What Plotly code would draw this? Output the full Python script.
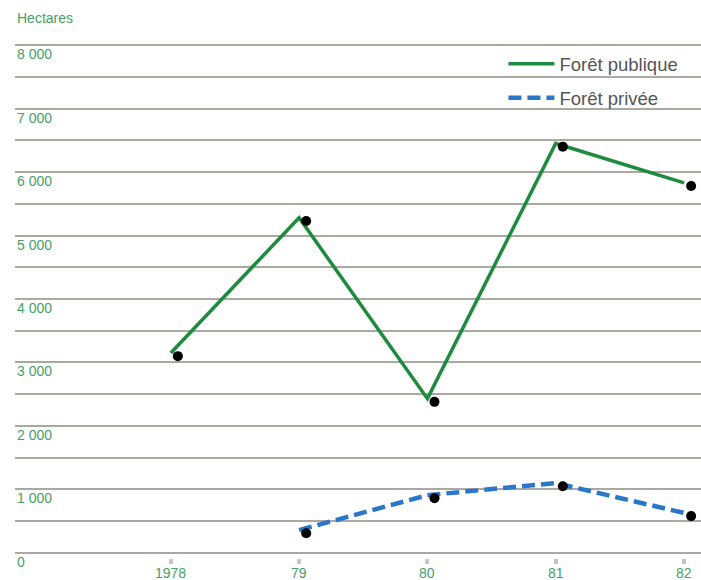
import plotly.graph_objects as go

years = [1978, 1979, 1980, 1981, 1982]
year_labels = ["1978", "79", "80", "81", "82"]
foret_publique = [3150, 5280, 2430, 6450, 5830]
foret_privee = [None, 360, 910, 1100, 630]
y_ticks = [0, 1000, 2000, 3000, 4000, 5000, 6000, 7000, 8000]

GREEN = "#1f8b3f"
BLUE = "#2a76c9"
LABEL_GREEN = "#47a066"
FONT = "Liberation Sans, Arial, sans-serif"

fig = go.Figure()
fig.add_trace(go.Scatter(
    x=years, y=foret_publique, mode="lines", name="Forêt publique",
    line=dict(color=GREEN, width=3.5), legendgroup="a",
))
fig.add_trace(go.Scatter(
    x=years, y=foret_privee, mode="lines", name="Forêt privée",
    line=dict(color=BLUE, width=4.5, dash="13px,6px"), legendgroup="b",
))
# dots (printed slightly off-register from the line vertices)
for series in (foret_publique, foret_privee):
    fig.add_trace(go.Scatter(
        x=years, y=series, mode="markers", showlegend=False,
        marker=dict(color="black", size=10), xaxis="x2", yaxis="y2",
        cliponaxis=False,
    ))

x_range = [1976.786, 1982.132]
y_range = [-80, 8080]
dx = 0.055
dy = 50

fig.update_layout(
    width=701, height=580,
    margin=dict(l=15, r=0, t=40, b=22, autoexpand=False),
    paper_bgcolor="white", plot_bgcolor="white",
    font=dict(family=FONT, color="#555"),
    showlegend=True,
    legend=dict(
        x=0.712, y=0.99, xanchor="left", yanchor="top",
        font=dict(size=18.5, color="#555", family=FONT),
        bgcolor="rgba(0,0,0,0)", tracegroupgap=7, itemwidth=46,
    ),
    xaxis=dict(
        range=x_range, tickvals=years, showticklabels=False,
        showgrid=False, zeroline=False, showline=False, automargin=False,
        ticks="outside", ticklen=5, tickwidth=4, tickcolor="#c4c4c0",
    ),
    yaxis=dict(
        range=y_range, dtick=500, tick0=0, showticklabels=False,
        showgrid=True, gridcolor="#a9a9a2", gridwidth=1.6, zeroline=False,
        automargin=False,
    ),
    xaxis2=dict(range=[x_range[0] - dx, x_range[1] - dx], overlaying="x",
                visible=False),
    yaxis2=dict(range=[y_range[0] + dy, y_range[1] + dy], overlaying="y",
                visible=False),
)

for v in y_ticks:
    fig.add_annotation(
        x=0, xref="paper", y=v, yref="y", xanchor="left", yanchor="top",
        yshift=1, text=f"{v:,}".replace(",", " "), showarrow=False,
        font=dict(size=14, color=LABEL_GREEN, family=FONT),
    )

for yr, lab in zip(years, year_labels):
    fig.add_annotation(
        x=yr, xref="x", y=0, yref="paper", xanchor="center",
        yanchor="middle", yshift=-15, text=lab, showarrow=False,
        font=dict(size=14, color=LABEL_GREEN, family=FONT),
    )

fig.add_annotation(
    x=0, xref="paper", y=1.042, yref="paper", xanchor="left",
    yanchor="middle", text="Hectares", showarrow=False,
    font=dict(size=14, color=LABEL_GREEN, family=FONT),
)

fig.write_html(
    "out.html",
    config={"displayModeBar": False},
    post_script="document.body.style.margin='0';document.body.style.overflow='hidden';",
)
